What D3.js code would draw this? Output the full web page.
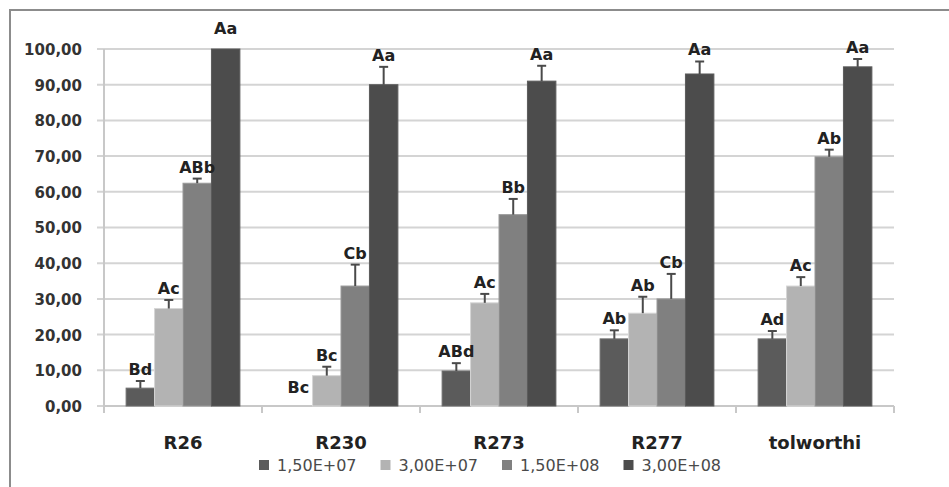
<!DOCTYPE html>
<meta charset="utf-8">
<head>
    <title>Bar chart</title>
</head>
<style>
    body { margin: 0; background: #fff; }
    text { font-family: "DejaVu Sans", Verdana, sans-serif; }
    .ytick { font-size: 15px; font-weight: bold; fill: #333; }
    .cat { font-size: 18px; font-weight: bold; fill: #222; }
    .lbl { font-size: 16px; font-weight: bold; fill: #222; }
    .leg { font-size: 16px; fill: #4a4a4a; }
</style>
<body>
<script src="https://d3js.org/d3.v7.min.js"></script>
<script>
    // data
    var categories = ["R26", "R230", "R273", "R277", "tolworthi"];
    var series = ["1,50E+07", "3,00E+07", "1,50E+08", "3,00E+08"];
    var colors = ["#5b5b5b", "#b3b3b3", "#808080", "#4c4c4c"];
    var values = [
        [5.0, 27.3, 62.4, 100],
        [0, 8.5, 33.6, 90],
        [9.8, 28.9, 53.6, 91],
        [18.8, 26.0, 30.0, 93],
        [18.8, 33.6, 69.8, 95]
    ];
    var errors = [
        [2.0, 2.4, 1.3, 2.5],
        [2.0, 2.5, 6.0, 5.0],
        [2.2, 2.5, 4.4, 4.3],
        [2.4, 4.6, 7.0, 3.5],
        [2.2, 2.5, 2.0, 2.2]
    ];
    var letters = [
        ["Bd", "Ac", "ABb", "Aa"],
        ["Bc", "Bc", "Cb", "Aa"],
        ["ABd", "Ac", "Bb", "Aa"],
        ["Ab", "Ab", "Cb", "Aa"],
        ["Ad", "Ac", "Ab", "Aa"]
    ];
    var yTicks = [0, 10, 20, 30, 40, 50, 60, 70, 80, 90, 100];

    var width = 949, height = 487;
    var margin = {left: 104, right: 55, top: 49, bottom: 81};

    var svg = d3.select("body").append("svg")
        .attr("width", width)
        .attr("height", height);

    // outer frame (only top and left are inside the picture)
    svg.append("path")
        .attr("d", "M10," + height + "V10H" + width)
        .attr("fill", "none")
        .attr("stroke", "#8c8c8c")
        .attr("stroke-width", 2);

    var x0 = d3.scaleBand().domain(categories)
        .range([margin.left, width - margin.right]);
    var gap = x0.bandwidth() * 0.14;
    var x1 = d3.scaleBand().domain(series)
        .range([gap, x0.bandwidth() - gap]);
    var y = d3.scaleLinear().domain([0, 100])
        .range([height - margin.bottom, margin.top]);

    // gridlines
    svg.append("g").selectAll("line")
        .data(yTicks)
        .enter().append("line")
        .attr("x1", margin.left - 7)
        .attr("x2", width - margin.right)
        .attr("y1", function (d) { return y(d); })
        .attr("y2", function (d) { return y(d); })
        .attr("stroke", "#d4d4d4")
        .attr("stroke-width", 2);

    // y axis
    var yAxis = svg.append("g")
        .attr("transform", "translate(" + (margin.left - 22) + ",0)")
        .call(d3.axisLeft(y).tickValues(yTicks).tickSize(0)
            .tickFormat(function (d) { return d3.format(".2f")(d).replace(".", ","); }));
    yAxis.select(".domain").remove();
    yAxis.selectAll("text").attr("class", "ytick").attr("dy", "0.36em").attr("x", 0);

    svg.append("line")
        .attr("x1", margin.left).attr("x2", margin.left)
        .attr("y1", y(100)).attr("y2", y(0))
        .attr("stroke", "#c8c8c8").attr("stroke-width", 2);

    // x axis
    var xAxis = svg.append("g")
        .attr("transform", "translate(0," + y(0) + ")");
    xAxis.append("line")
        .attr("x1", margin.left).attr("x2", width - margin.right)
        .attr("stroke", "#c8c8c8").attr("stroke-width", 2);
    xAxis.selectAll(".tk")
        .data(categories.concat([null]))
        .enter().append("line")
        .attr("x1", function (d, i) { return margin.left + i * x0.step(); })
        .attr("x2", function (d, i) { return margin.left + i * x0.step(); })
        .attr("y1", 0).attr("y2", 7)
        .attr("stroke", "#c8c8c8").attr("stroke-width", 2);
    xAxis.selectAll(".cat")
        .data(categories)
        .enter().append("text")
        .attr("class", "cat")
        .attr("x", function (d) { return x0(d) + x0.bandwidth() / 2; })
        .attr("y", 43)
        .attr("text-anchor", "middle")
        .text(function (d) { return d; });

    // bars
    var points = [];
    categories.forEach(function (c, i) {
        series.forEach(function (s, j) {
            points.push({cat: c, ser: s, j: j, v: values[i][j], e: errors[i][j], lab: letters[i][j]});
        });
    });

    var groups = svg.append("g");
    groups.selectAll("rect")
        .data(points)
        .enter().append("rect")
        .attr("x", function (d) { return x0(d.cat) + x1(d.ser); })
        .attr("width", x1.bandwidth())
        .attr("y", function (d) { return y(d.v); })
        .attr("height", function (d) { return y(0) - y(d.v); })
        .attr("fill", function (d) { return colors[d.j]; })
        .attr("stroke", function (d) { return d3.color(colors[d.j]).brighter(0.5); })
        .attr("stroke-width", 1);

    // error bars, clipped at the axis max
    svg.append("clipPath").attr("id", "plot")
        .append("rect")
        .attr("x", margin.left).attr("y", y(100))
        .attr("width", width - margin.left - margin.right)
        .attr("height", y(0) - y(100));

    var eb = svg.append("g").attr("clip-path", "url(#plot)")
        .selectAll("g")
        .data(points.filter(function (d) { return d.v > 0; }))
        .enter().append("g")
        .attr("stroke", "#4a4a4a")
        .attr("stroke-width", 2);
    eb.append("line")
        .attr("x1", function (d) { return x0(d.cat) + x1(d.ser) + x1.bandwidth() / 2; })
        .attr("x2", function (d) { return x0(d.cat) + x1(d.ser) + x1.bandwidth() / 2; })
        .attr("y1", function (d) { return y(d.v); })
        .attr("y2", function (d) { return y(d.v + d.e); });
    eb.append("line")
        .attr("x1", function (d) { return x0(d.cat) + x1(d.ser) + x1.bandwidth() / 2 - 4.5; })
        .attr("x2", function (d) { return x0(d.cat) + x1(d.ser) + x1.bandwidth() / 2 + 4.5; })
        .attr("y1", function (d) { return y(d.v + d.e); })
        .attr("y2", function (d) { return y(d.v + d.e); });

    // letter labels
    svg.append("g").selectAll("text")
        .data(points)
        .enter().append("text")
        .attr("class", "lbl")
        .attr("x", function (d) { return x0(d.cat) + x1(d.ser) + x1.bandwidth() / 2; })
        .attr("y", function (d) { return y(d.v + d.e) - 6; })
        .attr("text-anchor", "middle")
        .text(function (d) { return d.lab; });

    // legend
    var leg = svg.append("g");
    var lx = 0;
    series.forEach(function (s, j) {
        var item = leg.append("g").attr("transform", "translate(" + lx + ",0)");
        item.append("rect")
            .attr("x", 0).attr("y", -5)
            .attr("width", 10).attr("height", 10)
            .attr("fill", colors[j]);
        var t = item.append("text")
            .attr("class", "leg")
            .attr("x", 18).attr("dy", "0.36em")
            .text(s);
        lx += 18 + t.node().getComputedTextLength() + 24;
    });
    var legW = lx - 24;
    leg.attr("transform", "translate(" + (490 - legW / 2) + ",465)");
</script>
</body>
</html>
